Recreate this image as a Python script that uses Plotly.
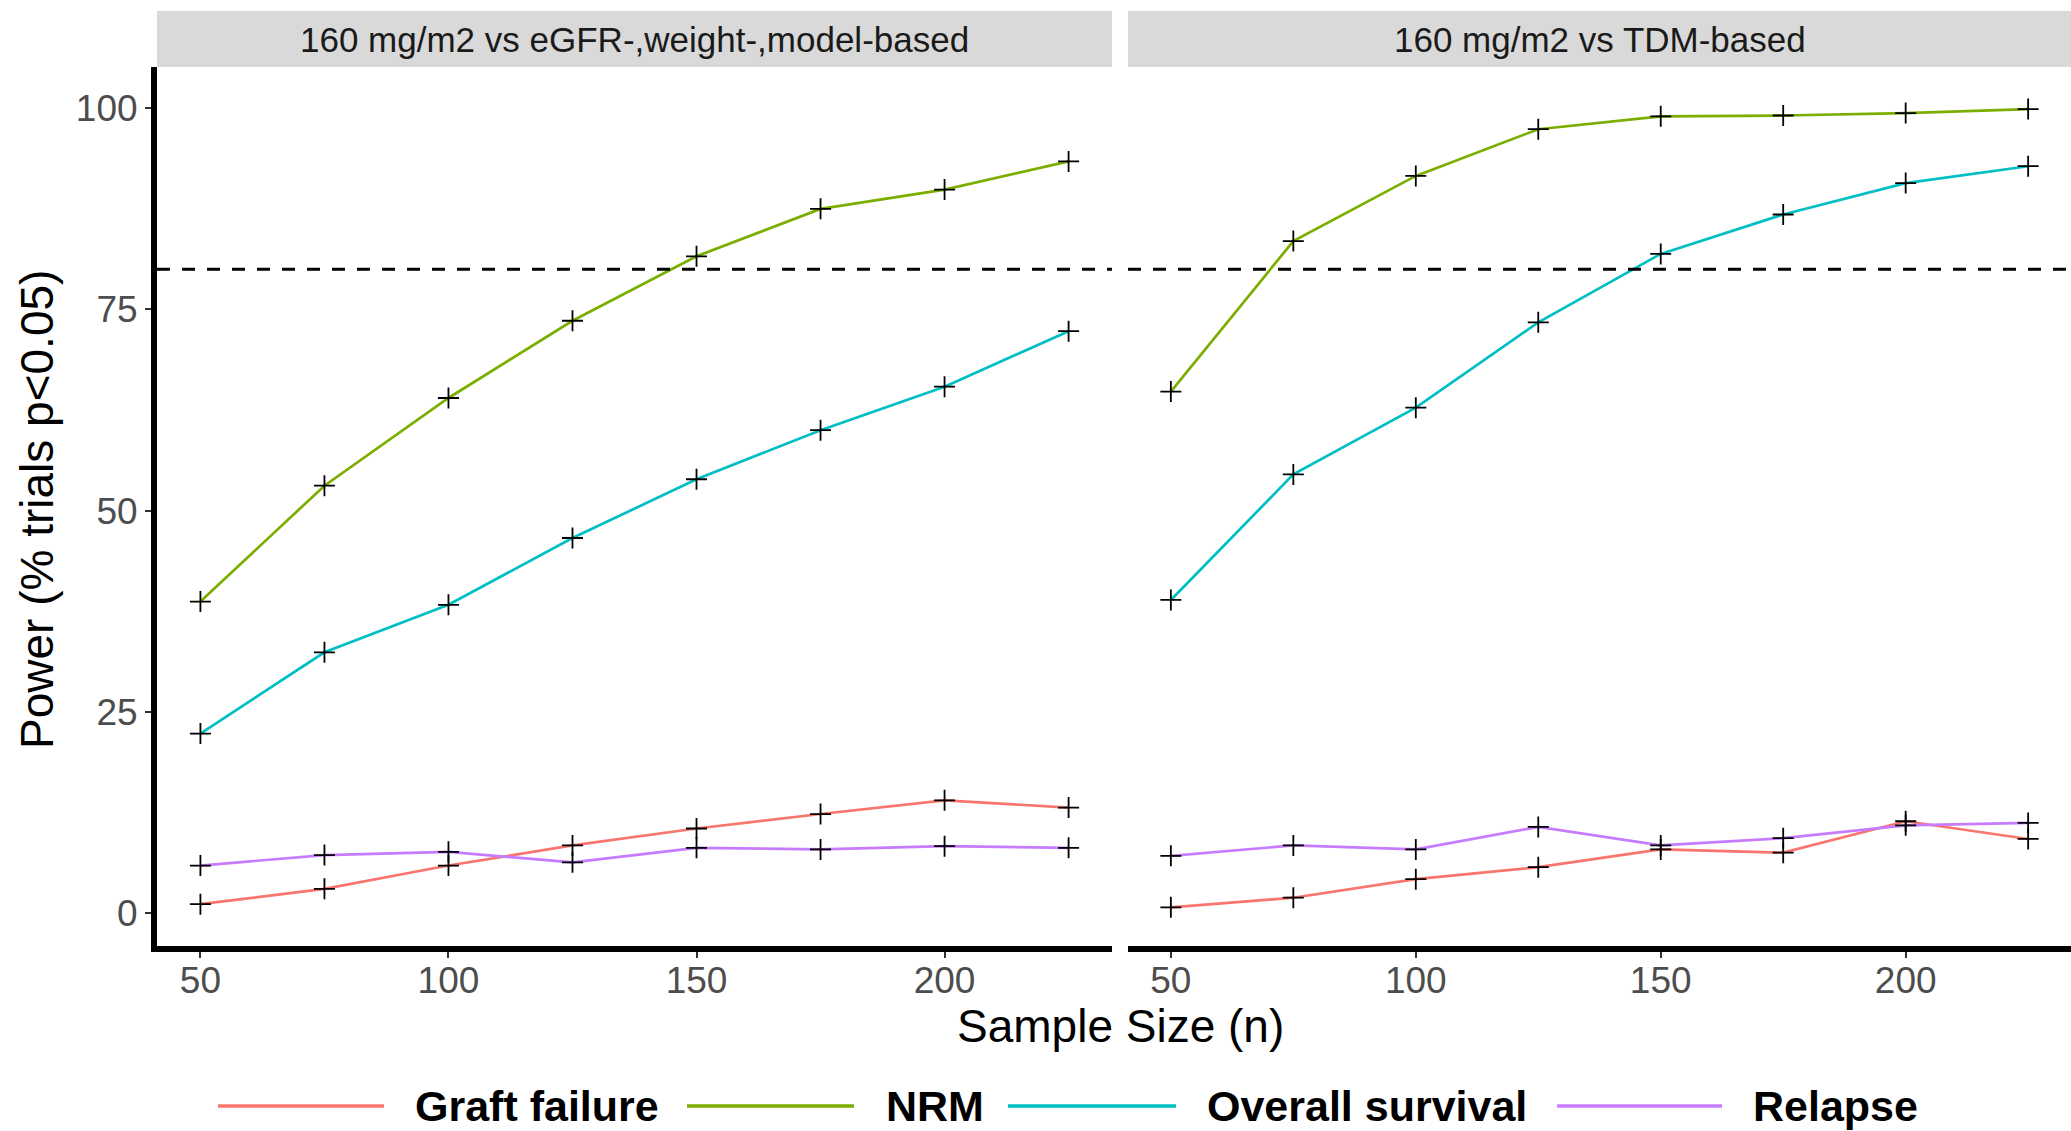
import plotly.graph_objects as go

# ---------------- data ----------------
sample_sizes = [50, 75, 100, 125, 150, 175, 200, 225]
series_names = ["Graft failure", "NRM", "Overall survival", "Relapse"]
panel_titles = ["160 mg/m2 vs eGFR-,weight-,model-based", "160 mg/m2 vs TDM-based"]

left_graft = [1.1, 3.0, 5.9, 8.4, 10.5, 12.3, 14.0, 13.1]
left_nrm = [38.7, 53.1, 64.0, 73.6, 81.6, 87.5, 89.9, 93.4]
left_os = [22.3, 32.4, 38.3, 46.6, 53.9, 60.0, 65.4, 72.3]
left_relapse = [5.9, 7.2, 7.6, 6.3, 8.1, 7.9, 8.3, 8.1]

right_graft = [0.7, 1.9, 4.2, 5.7, 7.9, 7.5, 11.4, 9.2]
right_nrm = [64.8, 83.5, 91.6, 97.4, 99.0, 99.1, 99.4, 99.9]
right_os = [38.9, 54.5, 62.8, 73.4, 81.9, 86.8, 90.7, 92.8]
right_relapse = [7.1, 8.4, 7.9, 10.7, 8.4, 9.3, 10.9, 11.2]

power_threshold = 80
x_ticks = [50, 100, 150, 200]
y_ticks = [0, 25, 50, 75, 100]

# ---------------- style ----------------
W, H = 2071, 1131
colors = ["#F8766D", "#7CAE00", "#00BFC4", "#C77CFF"]
FONT = "Liberation Sans, Arial, Helvetica, sans-serif"

def px_x(p):
    return p / W

def px_y(p):
    return (H - p) / H

left_dom = [px_x(157), px_x(1112)]
right_dom = [px_x(1128), 1.0]
y_dom = [px_y(946), px_y(67)]

fig = go.Figure()

panels = [
    ("x", "y", [left_graft, left_nrm, left_os, left_relapse]),
    ("x2", "y2", [right_graft, right_nrm, right_os, right_relapse]),
]

for xa, ya, vals in panels:
    for name, col, v in zip(series_names, colors, vals):
        fig.add_trace(go.Scatter(
            x=sample_sizes, y=v, mode="lines", name=name,
            line=dict(color=col, width=2.7), xaxis=xa, yaxis=ya,
            showlegend=False, hoverinfo="x+y+name"))
    for name, v in zip(series_names, vals):
        fig.add_trace(go.Scatter(
            x=sample_sizes, y=v, mode="markers", name=name,
            marker=dict(symbol="cross-thin", size=15, color="black",
                        line=dict(color="black", width=1.8)),
            xaxis=xa, yaxis=ya, showlegend=False, hoverinfo="skip"))

x_range = [41.25, 233.75]
y_range = [-4.1, 105.13]

axis_common = dict(
    range=x_range, tickvals=x_ticks, ticks="outside", ticklen=6, tickwidth=1.6,
    tickcolor="#333333", showgrid=False, zeroline=False,
    showline=True, linecolor="black", linewidth=6, ticklabelstandoff=-9,
    tickfont=dict(family=FONT, size=37, color="#4D4D4D"),
)

fig.update_layout(
    width=W, height=H,
    margin=dict(l=0, r=0, t=0, b=0),
    paper_bgcolor="white", plot_bgcolor="white",
    showlegend=False,
    xaxis=dict(domain=left_dom, anchor="y", **axis_common),
    xaxis2=dict(domain=right_dom, anchor="y2", **axis_common),
    yaxis=dict(domain=y_dom, anchor="x", range=y_range, tickvals=y_ticks,
               ticks="outside", ticklen=6, tickwidth=1.6, tickcolor="#333333",
               showgrid=False, zeroline=False, showline=True, linecolor="black",
               linewidth=6, tickfont=dict(family=FONT, size=37, color="#4D4D4D")),
    yaxis2=dict(domain=y_dom, anchor="x2", range=y_range, matches="y",
                showticklabels=False, ticks="", showgrid=False, zeroline=False,
                showline=False),
)

shapes = []
annotations = []

# threshold lines
for xr, yr in [("x domain", "y"), ("x2 domain", "y2")]:
    shapes.append(dict(type="line", xref=xr, yref=yr, x0=0, x1=1,
                       y0=power_threshold, y1=power_threshold,
                       line=dict(color="black", width=3, dash="13px,12px")))

# facet strips
for dom, title in zip([left_dom, right_dom], panel_titles):
    shapes.append(dict(type="rect", xref="paper", yref="paper",
                       x0=dom[0], x1=dom[1], y0=y_dom[1], y1=px_y(11),
                       fillcolor="#D9D9D9", line=dict(width=0), layer="below"))
    annotations.append(dict(xref="paper", yref="paper",
                            x=(dom[0] + dom[1]) / 2, y=px_y(40),
                            text=title, showarrow=False,
                            xanchor="center", yanchor="middle",
                            font=dict(family=FONT, size=35, color="#1A1A1A")))

# axis titles
annotations.append(dict(xref="paper", yref="paper", x=px_x(1120), y=px_y(1026),
                        text="Sample Size (n)", showarrow=False,
                        xanchor="center", yanchor="middle",
                        font=dict(family=FONT, size=46, color="black")))
annotations.append(dict(xref="paper", yref="paper", x=px_x(37), y=px_y(510),
                        text="Power (% trials p<0.05)", showarrow=False,
                        textangle=-90, xanchor="center", yanchor="middle",
                        font=dict(family=FONT, size=46, color="black")))

# legend (drawn manually to reproduce long key lines)
legend_keys = [(218, 384, 413), (687, 854, 884), (1008, 1176, 1205), (1557, 1722, 1751)]
leg_y = px_y(1106)
for (x0, x1, xt), name, col in zip(legend_keys, series_names, colors):
    shapes.append(dict(type="line", xref="paper", yref="paper",
                       x0=px_x(x0), x1=px_x(x1), y0=leg_y, y1=leg_y,
                       line=dict(color=col, width=3.4)))
    annotations.append(dict(xref="paper", yref="paper", x=px_x(xt), y=leg_y,
                            text="<b>" + name + "</b>", showarrow=False,
                            xanchor="left", yanchor="middle",
                            font=dict(family=FONT, size=43, color="black")))

fig.update_layout(shapes=shapes, annotations=annotations)

fig.write_html(
    "out.html",
    config={"displayModeBar": False},
    post_script="document.body.style.margin='0';document.body.style.overflow='hidden';",
)
